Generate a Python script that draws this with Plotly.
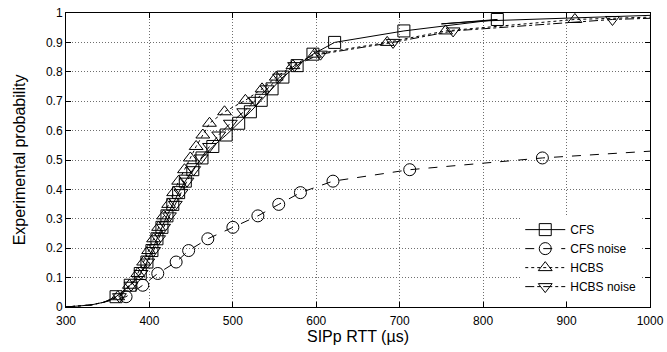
import plotly.graph_objects as go

# Marker levels (experimental probability at each plotted point)
mark_y = [0.035, 0.074, 0.114, 0.153, 0.192, 0.232, 0.271, 0.310, 0.349, 0.389,
          0.428, 0.467, 0.507, 0.546, 0.585, 0.625, 0.664, 0.703, 0.742, 0.782,
          0.821, 0.860, 0.900, 0.939, 0.978]

cfs_x = [360, 377, 389, 397, 403, 409, 415, 421, 428, 435, 443, 452, 463, 476,
         492, 507, 521, 534, 547, 560, 577, 596, 622, 705, 817]
cfs_noise_x = [372, 392, 410, 432, 447, 470, 500, 530, 555, 581, 620, 712, 871]
hcbs_x = [362, 376, 386, 393, 399, 405, 411, 417, 423, 429, 435, 442, 449, 456,
          464, 472, 490, 515, 535, 552, 572, 598, 685, 755, 910]
hcbs_noise_x = [364, 378, 390, 398, 405, 411, 417, 424, 431, 438, 445, 453, 462,
                472, 483, 497, 513, 527, 541, 556, 574, 605, 692, 764, 955]

# curve start (shared) and curve tails
head_x = [300, 330, 345]
head_y = [0.0, 0.007, 0.016]
cfs_tail_x = [750, 800, 1000]
cfs_tail_y = [0.963, 0.973, 0.992]
cfs_noise_tail_x = [1000]
cfs_noise_tail_y = [0.530]
hcbs_tail_x = [1000]
hcbs_tail_y = [0.986]
hcbs_noise_tail_x = [1000]
hcbs_noise_tail_y = [0.982]

x_ticks = [300, 400, 500, 600, 700, 800, 900, 1000]
y_ticks = [0, 0.1, 0.2, 0.3, 0.4, 0.5, 0.6, 0.7, 0.8, 0.9, 1]
y_tick_text = ["0", "0.1", "0.2", "0.3", "0.4", "0.5", "0.6", "0.7", "0.8", "0.9", "1"]

FONT = "Liberation Sans, Arial, Helvetica, sans-serif"

series = [
    ("CFS", cfs_x, cfs_tail_x, cfs_tail_y, "solid", "square-open"),
    ("CFS noise", cfs_noise_x, cfs_noise_tail_x, cfs_noise_tail_y, "dash", "circle-open"),
    ("HCBS", hcbs_x, hcbs_tail_x, hcbs_tail_y, "dot", "triangle-up-open"),
    ("HCBS noise", hcbs_noise_x, hcbs_noise_tail_x, hcbs_noise_tail_y, "dashdot", "triangle-down-open"),
]

fig = go.Figure()
for name, mx, tx, ty, dash, sym in series:
    my = mark_y[:len(mx)]
    # curve
    fig.add_trace(go.Scatter(
        x=head_x + mx + tx, y=head_y + my + ty, mode="lines",
        line=dict(color="black", width=1, dash=dash),
        showlegend=False, hoverinfo="skip"))
    # points
    fig.add_trace(go.Scatter(
        x=mx, y=my, mode="markers",
        marker=dict(symbol=sym, size=12, color="black", line=dict(width=1, color="black")),
        showlegend=False))
    # legend entry
    fig.add_trace(go.Scatter(
        x=[None], y=[None], mode="lines+markers", name=name,
        line=dict(color="black", width=1, dash=dash),
        marker=dict(symbol=sym, size=12, color="black", line=dict(width=1, color="black"))))

axis_common = dict(
    showline=True, linecolor="black", linewidth=1, mirror="allticks",
    ticks="inside", ticklen=5, tickcolor="black",
    showgrid=True, gridcolor="rgb(110,110,110)", griddash="1px,2px", gridwidth=1,
    zeroline=False, tickfont=dict(family=FONT, size=12, color="black"),
)

fig.update_xaxes(range=[300, 1000], tickvals=x_ticks, ticklabelstandoff=3,
                 title=dict(text="SIPp RTT (µs)", font=dict(family=FONT, size=16, color="black"), standoff=2),
                 **axis_common)
fig.update_yaxes(range=[0, 1], tickvals=y_ticks, ticktext=y_tick_text,
                 title=dict(text="Experimental probability", font=dict(family=FONT, size=16, color="black"), standoff=16),
                 **axis_common)

fig.update_layout(
    width=667, height=352,
    margin=dict(l=66, r=17, t=13, b=45, autoexpand=False),
    plot_bgcolor="white", paper_bgcolor="white",
    font=dict(family=FONT, size=12, color="black"),
    legend=dict(x=0.985, y=0.02, xanchor="right", yanchor="bottom",
                bgcolor="white", borderwidth=0, tracegroupgap=0,
                font=dict(family=FONT, size=12, color="black"),
                itemwidth=40),
)

fig.write_html("out.html", config={"displayModeBar": False},
               post_script="document.body.style.margin='0px';")
